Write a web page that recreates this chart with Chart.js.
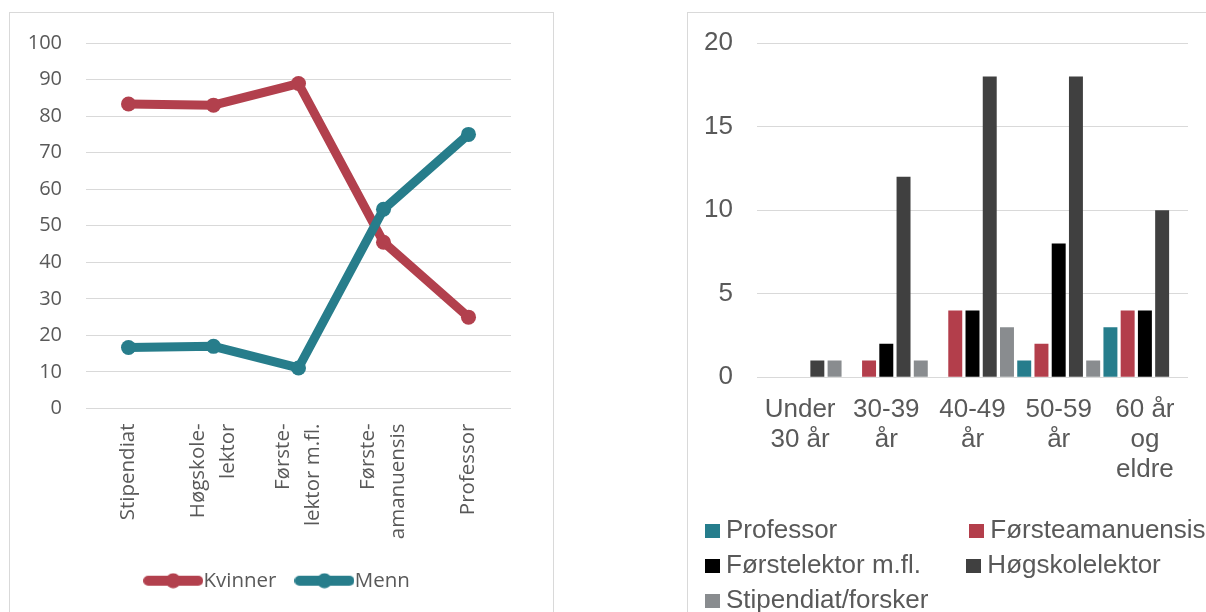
<!DOCTYPE html>
<html><head><meta charset="utf-8">
<script src="https://cdn.jsdelivr.net/npm/chart.js@4.4.1/dist/chart.umd.min.js"></script>
<style>
html,body{margin:0;padding:0;background:#fff;overflow:hidden;width:1206px;height:612px;}
.box{position:absolute;border:1px solid #D9D9D9;background:#fff;}
.wrap{position:relative;width:543px;}
</style></head><body>
<div class="box" style="left:9px;top:12px;width:543px;height:640px"><div class="wrap" style="height:588px"><canvas id="c1"></canvas></div></div>
<div class="box" style="left:687px;top:12px;width:543px;height:640px"><div class="wrap" style="height:611px"><canvas id="c2"></canvas></div></div>
<script>
// ---- data: left chart (share in percent) ----
const positions = ['Stipendiat', ['Høgskole-', 'lektor'], ['Første-', 'lektor m.fl.'], ['Første-', 'amanuensis'], 'Professor'];
const kvinner = [83.3, 83.0, 88.9, 45.5, 25.0];
const menn = [16.7, 17.0, 11.1, 54.5, 75.0];
const leftSeries = ['Kvinner', 'Menn'];
const leftTicks = [0, 10, 20, 30, 40, 50, 60, 70, 80, 90, 100];

// ---- data: right chart (count by age group) ----
const ageGroups = [['Under', '30 år'], ['30-39', 'år'], ['40-49', 'år'], ['50-59', 'år'], ['60 år', 'og', 'eldre']];
const professor = [0, 0, 0, 1, 3];
const forsteamanuensis = [0, 1, 4, 2, 4];
const forstelektor = [0, 2, 4, 8, 4];
const hogskolelektor = [1, 12, 18, 18, 10];
const stipendiat = [1, 1, 3, 1, 0];
const rightSeries = ['Professor', 'Førsteamanuensis', 'Førstelektor m.fl.', 'Høgskolelektor', 'Stipendiat/forsker'];
const rightTicks = [0, 5, 10, 15, 20];

// ---- styles ----
const LEFT_FONT = "'Open Sans', 'DejaVu Sans', sans-serif";
const RIGHT_FONT = "'Liberation Sans', Arial, sans-serif";
const TEXT = '#595959';
const GRID = '#D9D9D9';
const RED = '#B2404D';
const TEAL = '#277D8B';
const barColors = ['#267D8C', '#B33E4B', '#000000', '#404040', '#898C8F'];

function lineSymbol(color) {
  const c = document.createElement('canvas'); c.width = 60; c.height = 16;
  const x = c.getContext('2d');
  x.strokeStyle = color; x.lineWidth = 10; x.lineCap = 'round';
  x.beginPath(); x.moveTo(5, 8); x.lineTo(55, 8); x.stroke();
  x.fillStyle = color; x.beginPath(); x.arc(30, 8, 7.5, 0, Math.PI * 2); x.fill();
  return c;
}
function squareSymbol(color) {
  const c = document.createElement('canvas'); c.width = 15; c.height = 14;
  const x = c.getContext('2d'); x.fillStyle = color; x.fillRect(0, 0, 15, 14);
  return c;
}
function padTo(text, target, font) {
  const ctx = document.createElement('canvas').getContext('2d');
  ctx.font = font;
  let s = text, best = s, err = Math.abs(ctx.measureText(s).width - target);
  while (ctx.measureText(s).width < target + 8) {
    s += ' ';
    const e = Math.abs(ctx.measureText(s).width - target);
    if (e < err) { err = e; best = s; }
  }
  return best;
}
// centre multi-line rotated category labels on their tick
const centerMultiline = {
  id: 'centerMultiline',
  beforeDraw(chart) {
    const s = chart.scales.x;
    s.getLabelItems().forEach(it => {
      if (Array.isArray(it.label) && !it._shifted) {
        it.options.translation[0] -= (it.label.length - 1) * it.font.lineHeight / 2;
        it._shifted = true;
      }
    });
  }
};
const hiddenTicks = { drawTicks: true, tickLength: 24, tickColor: 'rgba(0,0,0,0)' };

// ---- left: line chart ----
new Chart(document.getElementById('c1'), {
  type: 'line',
  plugins: [centerMultiline],
  data: {
    labels: positions,
    datasets: [
      { label: leftSeries[0], data: kvinner, order: 1, borderColor: RED, backgroundColor: RED, pointBackgroundColor: RED },
      { label: leftSeries[1], data: menn, order: 0, borderColor: TEAL, backgroundColor: TEAL, pointBackgroundColor: TEAL }
    ]
  },
  options: {
    responsive: true, maintainAspectRatio: false, animation: false,
    events: [],
    layout: { padding: { left: 0, right: 0, top: 30, bottom: 0 } },
    elements: {
      line: { borderWidth: 9, borderCapStyle: 'round', borderJoinStyle: 'round', tension: 0 },
      point: { radius: 7.5, borderWidth: 0, hoverRadius: 7.5 }
    },
    scales: {
      x: {
        offset: true,
        grid: { display: false }, border: { display: false },
        afterFit(s) { s.height = 134; },
        ticks: { color: TEXT, font: { family: LEFT_FONT, size: 20.5, lineHeight: 1.46 }, minRotation: 90, maxRotation: 90, padding: 7, autoSkip: false }
      },
      y: {
        min: leftTicks[0], max: leftTicks[leftTicks.length - 1],
        afterFit(s) { s.width = 76; },
        afterBuildTicks(s) { s.ticks = leftTicks.map(v => ({ value: v })); },
        grid: Object.assign({ color: GRID, lineWidth: 1 }, hiddenTicks), border: { display: false },
        ticks: { color: TEXT, font: { family: LEFT_FONT, size: 20 }, padding: 0 }
      },
      yPad: {
        position: 'right', display: true,
        afterFit(s) { s.width = 42; },
        grid: { display: false, drawTicks: false }, border: { display: false },
        ticks: { display: false }
      }
    },
    plugins: {
      tooltip: { enabled: false },
      legend: {
        position: 'bottom', align: 'center',
        labels: {
          usePointStyle: true, pointStyleWidth: 40, padding: 28, color: TEXT,
          font: { family: LEFT_FONT, size: 20.5 },
          generateLabels(chart) {
            const items = Chart.defaults.plugins.legend.labels.generateLabels(chart);
            items.sort((a, b) => a.datasetIndex - b.datasetIndex);
            items.forEach(it => { it.pointStyle = lineSymbol(chart.data.datasets[it.datasetIndex].borderColor); });
            return items;
          }
        }
      }
    }
  }
});

// ---- right: grouped bar chart ----
const legendFont = "26px " + RIGHT_FONT;
new Chart(document.getElementById('c2'), {
  type: 'bar',
  data: {
    labels: ageGroups,
    datasets: [professor, forsteamanuensis, forstelektor, hogskolelektor, stipendiat].map((d, i) => ({
      label: rightSeries[i], data: d, backgroundColor: barColors[i], borderWidth: 0,
      categoryPercentage: 1.0, barPercentage: 0.81
    }))
  },
  options: {
    responsive: true, maintainAspectRatio: false, animation: false,
    events: [],
    layout: { padding: { left: 15, right: 0, top: 30, bottom: 0 } },
    scales: {
      x: {
        grid: { display: false }, border: { display: false },
        afterFit(s) { s.height += 14; },
        ticks: { color: TEXT, font: { family: RIGHT_FONT, size: 26, lineHeight: 1.15 }, maxRotation: 0, padding: 10, autoSkip: false }
      },
      y: {
        min: rightTicks[0], max: rightTicks[rightTicks.length - 1],
        afterFit(s) { s.width = 54; },
        afterBuildTicks(s) { s.ticks = rightTicks.map(v => ({ value: v })); },
        grid: Object.assign({ color: GRID, lineWidth: 1 }, hiddenTicks), border: { display: false },
        ticks: { color: TEXT, font: { family: RIGHT_FONT, size: 26 }, padding: 0 }
      },
      yPad: {
        position: 'right', display: true,
        afterFit(s) { s.width = 43; },
        grid: { display: false, drawTicks: false }, border: { display: false },
        ticks: { display: false }
      }
    },
    plugins: {
      tooltip: { enabled: false },
      legend: {
        position: 'bottom', align: 'start',
        labels: {
          usePointStyle: true, pointStyleWidth: 1, padding: 9, color: TEXT,
          font: { family: RIGHT_FONT, size: 26 },
          generateLabels(chart) {
            const items = Chart.defaults.plugins.legend.labels.generateLabels(chart);
            items.forEach((it, i) => {
              it.pointStyle = squareSymbol(barColors[it.datasetIndex]);
              if (i % 2 === 0) it.text = padTo(it.text, 240.5, legendFont);
            });
            return items;
          }
        }
      }
    }
  }
});
</script>
</body></html>
